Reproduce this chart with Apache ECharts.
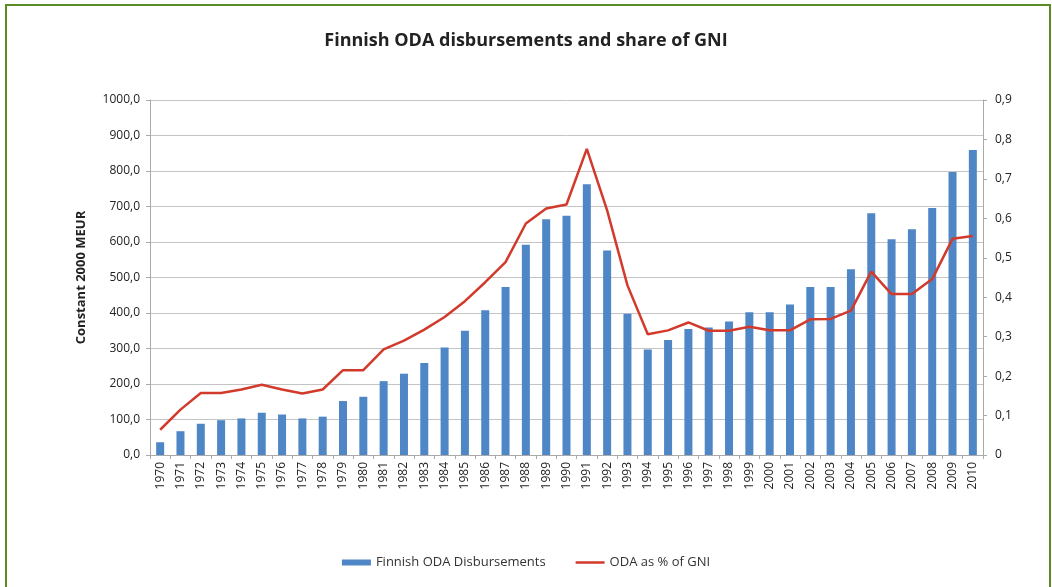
<!DOCTYPE html>
<html>
<head>
<meta charset="utf-8">
<script src="https://cdn.jsdelivr.net/npm/echarts@6/dist/echarts.min.js"></script>
<style>
html,body{margin:0;padding:0;background:#fff;}
#chart{width:1052px;height:587px;}
</style>
</head>
<body>
<div id="chart"></div>
<script>
var years = ['1970','1971','1972','1973','1974','1975','1976','1977','1978','1979',
  '1980','1981','1982','1983','1984','1985','1986','1987','1988','1989',
  '1990','1991','1992','1993','1994','1995','1996','1997','1998','1999',
  '2000','2001','2002','2003','2004','2005','2006','2007','2008','2009','2010'];
var odaDisbursements = [36,67,88,98,103,119,114,103,108,152,
  164,208,229,259,303,350,408,473,592,664,
  674,763,576,398,297,324,355,359,376,402,
  402,424,473,473,523,681,608,636,696,797,859];
var odaShareGNI = [0.064,0.115,0.157,0.157,0.166,0.178,0.166,0.156,0.166,0.215,
  0.215,0.268,0.29,0.318,0.35,0.39,0.438,0.489,0.587,0.625,
  0.635,0.776,0.62,0.43,0.306,0.316,0.336,0.315,0.315,0.325,
  0.316,0.316,0.344,0.345,0.366,0.465,0.408,0.408,0.446,0.548,0.555];
var seriesNames = ['Finnish ODA Disbursements','ODA as % of GNI'];

var chart = echarts.init(document.getElementById('chart'));
var font = '"Open Sans", Lato, sans-serif';
chart.setOption({
  animation: false,
  textStyle: {fontFamily: font},
  graphic: [{
    type: 'rect',
    shape: {x: 6, y: 5, width: 1044, height: 620},
    style: {fill: 'none', stroke: '#5b8c23', lineWidth: 2},
    silent: true
  }],
  title: {
    text: 'Finnish ODA disbursements and share of GNI',
    left: 'center',
    top: 27,
    textStyle: {fontFamily: font, fontSize: 18, fontWeight: 'bold', color: '#222'}
  },
  legend: {
    bottom: 13,
    left: 'center',
    itemGap: 30,
    itemWidth: 29,
    itemHeight: 6,
    textStyle: {fontFamily: font, fontSize: 13, color: '#333'},
    data: [
      {name: seriesNames[0], icon: 'rect'},
      {name: seriesNames[1], icon: 'path://M0,0L30,0L30,2.6L0,2.6Z'}
    ]
  },
  grid: {left: 150, right: 69, top: 100, bottom: 132},
  xAxis: {
    type: 'category',
    data: years,
    axisLine: {lineStyle: {color: '#aaa'}},
    axisTick: {show: true, alignWithLabel: false, length: 4, lineStyle: {color: '#aaa'}},
    axisLabel: {rotate: 90, interval: 0, fontSize: 12, color: '#222', margin: 7}
  },
  yAxis: [{
    type: 'value',
    min: 0, max: 1000, interval: 100,
    name: 'Constant 2000 MEUR',
    nameLocation: 'middle',
    nameRotate: 90,
    nameGap: 62,
    nameTextStyle: {fontFamily: font, fontSize: 13, fontWeight: 'bold', color: '#222'},
    axisLine: {show: true, lineStyle: {color: '#aaa'}},
    axisTick: {show: true, length: 4, lineStyle: {color: '#aaa'}},
    axisLabel: {fontSize: 12, color: '#222', margin: 10,
      formatter: function (v) { return v.toFixed(1).replace('.', ','); }},
    splitLine: {lineStyle: {color: '#c4c4c4', width: 1}}
  }, {
    type: 'value',
    min: 0, max: 0.9, interval: 0.1,
    position: 'right',
    axisLine: {show: true, lineStyle: {color: '#aaa'}},
    axisTick: {show: true, length: 4, lineStyle: {color: '#aaa'}},
    axisLabel: {fontSize: 12, color: '#222', margin: 12,
      formatter: function (v) { return v === 0 ? '0' : (Math.round(v * 10) / 10).toFixed(1).replace('.', ','); }},
    splitLine: {show: false}
  }],
  series: [{
    name: seriesNames[0],
    type: 'bar',
    data: odaDisbursements,
    barWidth: 8,
    itemStyle: {color: '#4f86c6'}
  }, {
    name: seriesNames[1],
    type: 'line',
    yAxisIndex: 1,
    data: odaShareGNI,
    showSymbol: false,
    symbol: 'none',
    lineStyle: {color: '#d23a2c', width: 2.5},
    itemStyle: {color: '#d23a2c'}
  }]
});
</script>
</body>
</html>
